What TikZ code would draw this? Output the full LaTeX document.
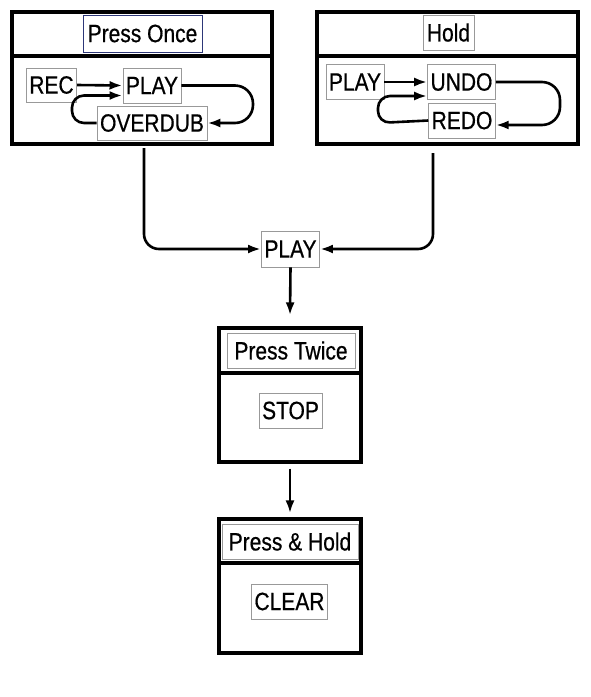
\documentclass[tikz,border=0pt]{standalone}
\usepackage{fontspec}
\setmainfont{Liberation Sans}[FakeStretch=0.84,FakeBold=0.6]
\usetikzlibrary{arrows.meta}

\definecolor{navyframe}{RGB}{45,55,120}
\tikzset{
  frame/.style={draw, line width=3.2pt, inner sep=0pt},
  lbl/.style={draw=black!40, line width=0.8pt, inner xsep=3pt, inner ysep=0pt,
    minimum height=35pt, font=\fontsize{25}{26}\selectfont},
  conn/.style={line width=2.6pt, -{Latex[length=13pt,width=9pt]}},
}

\begin{document}
\begin{tikzpicture}[x=1pt,y=-1pt]
  \useasboundingbox (0,0) rectangle (591,697);
  % Press Once
  \node[frame, minimum width=260pt, minimum height=132pt] (oncebox) at (142,78) {};
  \draw[line width=3.2pt] (12,56) -- (272,56);
  \node[lbl, draw=navyframe, minimum width=119pt, minimum height=37pt] (once) at (142.5,33.5) {Press Once};
  \node[lbl, minimum width=49pt, minimum height=34pt] (rec) at (51.5,85) {REC};
  \node[lbl, minimum width=58pt] (playa) at (152,85.5) {PLAY};
  \node[lbl, minimum width=106pt, minimum height=34pt] (overdub) at (152,123) {OVERDUB};
  \draw[conn] (rec.east) -- (playa.west);
  \draw[conn, rounded corners=12pt] (overdub.west) -- (72,123) |- ([yshift=-10pt]playa.west);
  \draw[conn, rounded corners=18pt] (playa.east) -| (253,123) -- (overdub.east);
  % Hold
  \node[frame, minimum width=261pt, minimum height=132pt] (holdbox) at (447.5,78) {};
  \draw[line width=3.2pt] (317,56) -- (578,56);
  \node[lbl, minimum width=51pt] (hold) at (448.5,32.5) {Hold};
  \node[lbl, minimum width=56pt] (playb) at (355,82) {PLAY};
  \node[lbl, minimum width=67pt] (undo) at (461.5,82) {UNDO};
  \node[lbl, minimum width=66pt] (redo) at (462,120.5) {REDO};
  \draw[conn] (playb.east) -- (undo.west);
  \draw[conn, rounded corners=12pt] (redo.west) -- (378,123) |- ([yshift=-14pt]undo.west);
  \draw[conn, rounded corners=18pt] (undo.east) -| (560,125) -- ([yshift=-4.5pt]redo.east);
  % join
  \coordinate (oncefoot) at (144,148);
  \coordinate (holdfoot) at (433,153);
  \node[lbl, minimum width=57pt, minimum height=36pt] (playc) at (290.5,249) {PLAY};
  \draw[conn, rounded corners=15pt] (oncefoot) |- (playc.west);
  \draw[conn, rounded corners=15pt] (holdfoot) |- (playc.east);
  % Press Twice
  \node[frame, minimum width=142pt, minimum height=134pt] (twicebox) at (290,395) {};
  \draw[line width=3.2pt] (219,373) -- (361,373);
  \node[lbl, minimum width=128pt] (twice) at (291,350.5) {Press Twice};
  \node[lbl, minimum width=63pt] (stop) at (290.5,410.5) {STOP};
  \draw[conn] (playc.south) -- ([yshift=11pt]twicebox.north);
  % Press & Hold
  \node[frame, minimum width=142pt, minimum height=134pt] (pholdbox) at (290,586) {};
  \draw[line width=3.2pt] (219,563) -- (361,563);
  \node[lbl, minimum width=136pt] (phold) at (290,541.5) {Press \& Hold};
  \node[lbl, minimum width=75pt] (clear) at (289.5,601.5) {CLEAR};
  \draw[conn] ([yshift=-5pt]twicebox.south) -- ([yshift=4pt]pholdbox.north);
\end{tikzpicture}
\end{document}
